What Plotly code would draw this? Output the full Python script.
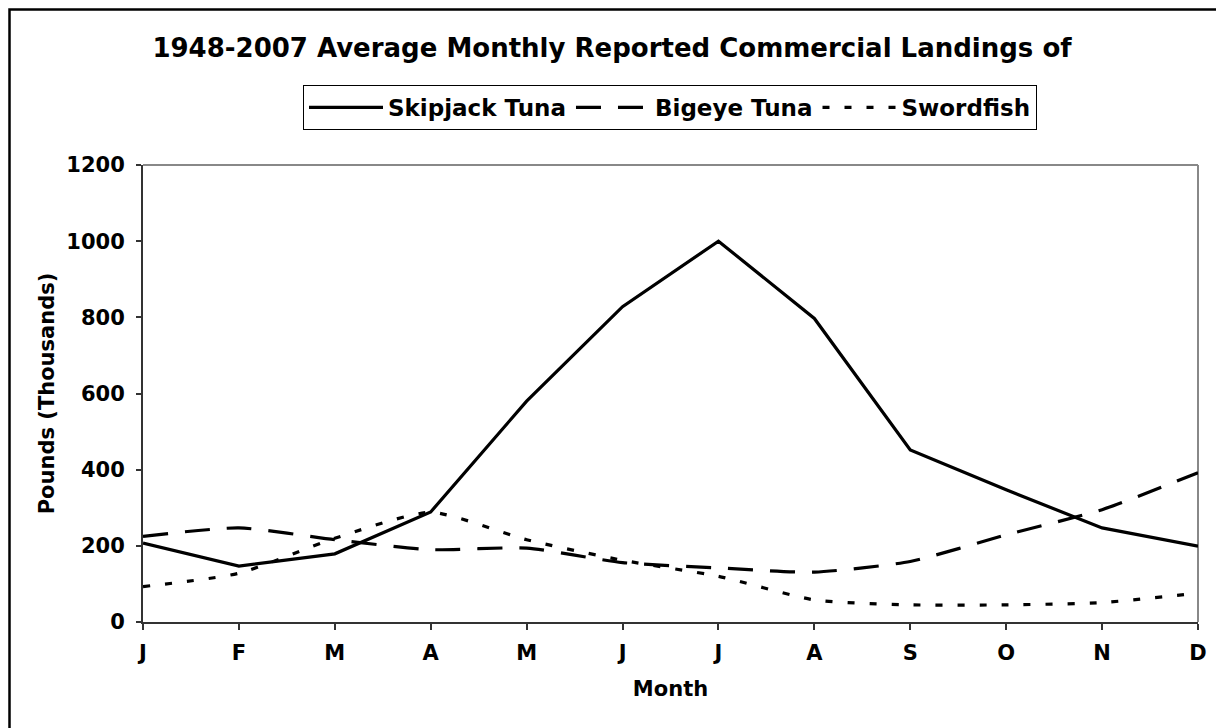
import plotly.graph_objects as go

months = ["J", "F", "M", "A", "M", "J", "J", "A", "S", "O", "N", "D"]
x_idx = list(range(12))
skipjack = [207, 147, 179, 289, 580, 828, 1000, 797, 452, 347, 247, 199]
bigeye = [225, 247, 216, 190, 194, 156, 142, 131, 159, 229, 295, 392]
swordfish = [93, 128, 220, 288, 216, 162, 120, 58, 45, 45, 51, 76]

FONT = "DejaVu Sans"
OFF = 8  # page body margin
W, H = 1224 - OFF, 728 - OFF
# plot area edges in page pixels
L, R, T, B = 143, 1198, 165, 622

def px(x):
    return (x - L) / (R - L)

def py(y):
    return (B - y) / (B - T)

fig = go.Figure()
fig.add_trace(go.Scatter(x=x_idx, y=skipjack, mode="lines", name="Skipjack Tuna",
                         line=dict(color="black", width=3.2)))
fig.add_trace(go.Scatter(x=x_idx, y=bigeye, mode="lines", name="Bigeye Tuna",
                         line=dict(color="black", width=3.2, dash="25px,17px", shape="spline", smoothing=0.6)))
fig.add_trace(go.Scatter(x=x_idx, y=swordfish, mode="lines", name="Swordfish",
                         line=dict(color="black", width=3.2, dash="7px,15px", shape="spline", smoothing=0.6)))

fig.update_layout(
    width=W, height=H,
    margin=dict(l=L - OFF, r=W - (R - OFF), t=T - OFF, b=H - (B - OFF)),
    paper_bgcolor="white", plot_bgcolor="white",
    font=dict(family=FONT, color="black", size=20, weight="bold"),
    title=dict(text="1948-2007 Average Monthly Reported Commercial Landings of",
               x=(612 - OFF) / W, xref="container", xanchor="center",
               y=1 - (48 - OFF) / H, yref="container", yanchor="middle",
               font=dict(family=FONT, size=26, weight="bold", color="black")),
    legend=dict(orientation="h", x=px(303), y=py(85), xanchor="left", yanchor="top",
                bordercolor="black", borderwidth=1, bgcolor="white",
                font=dict(family=FONT, size=23, weight="bold"), itemwidth=74,
                tracegroupgap=0),
    showlegend=True,
)

fig.update_xaxes(
    tickmode="array", tickvals=x_idx, ticktext=months, range=[0, 11],
    showgrid=False, zeroline=False, showline=True, linecolor="#333333", linewidth=2,
    ticks="outside", ticklen=6, tickcolor="#333333", tickwidth=1.5, ticklabelstandoff=5,
    tickfont=dict(family=FONT, size=21, weight="bold"),
    title=dict(text="Month", font=dict(family=FONT, size=21, weight="bold"), standoff=17),
)
fig.update_yaxes(
    range=[0, 1200], tickvals=[0, 200, 400, 600, 800, 1000, 1200],
    showgrid=False, zeroline=False, showline=True, linecolor="#333333", linewidth=2,
    ticks="outside", ticklen=5, tickcolor="#333333", tickwidth=1.5, ticklabelstandoff=7,
    tickfont=dict(family=FONT, size=21, weight="bold"),
    title=dict(text="Pounds (Thousands)", font=dict(family=FONT, size=21, weight="bold"), standoff=6),
)

# plot area top/right grey border
fig.add_shape(type="line", xref="paper", yref="paper", x0=0, x1=1, y0=1, y1=1,
              line=dict(color="#888888", width=2), layer="below")
fig.add_shape(type="line", xref="paper", yref="paper", x0=1, x1=1, y0=0, y1=1,
              line=dict(color="#888888", width=2), layer="below")
# outer chart border (top and left edges visible; right/bottom run past the page)
fig.add_shape(type="rect", xref="paper", yref="paper",
              x0=px(OFF + 1.5), x1=px(1224 + 20), y0=py(728 + 20), y1=py(OFF + 1.5),
              line=dict(color="black", width=2.5), fillcolor="rgba(0,0,0,0)")

fig.write_html("out.html")
